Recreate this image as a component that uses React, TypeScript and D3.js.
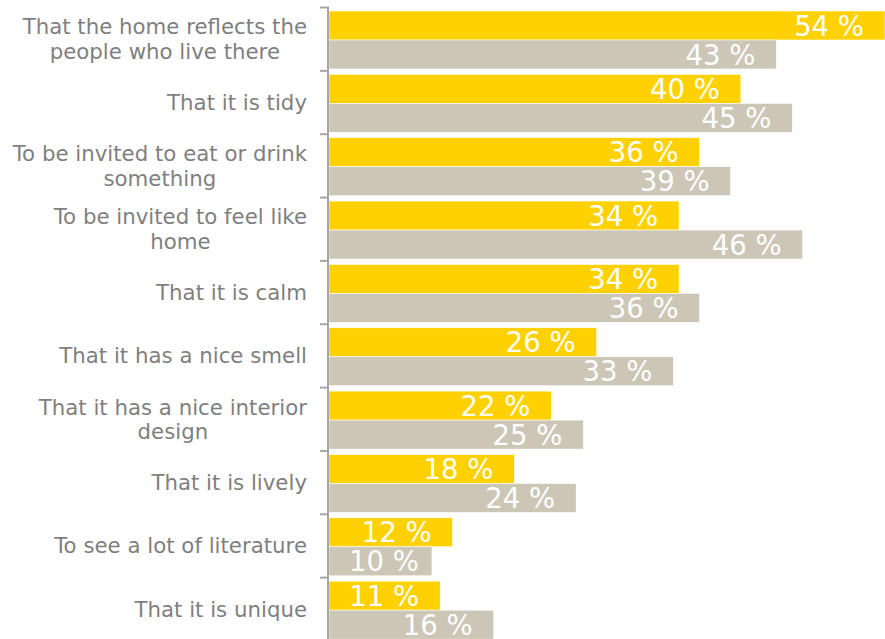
import { useEffect, useRef } from 'react'
import * as d3 from 'd3'

const categories = [
  'That the home reflects the|people who live there',
  'That it is tidy',
  'To be invited to eat or drink|something',
  'To be invited to feel like|home',
  'That it is calm',
  'That it has a nice smell',
  'That it has a nice interior|design',
  'That it is lively',
  'To see a lot of literature',
  'That it is unique',
]
const seriesA = [54, 40, 36, 34, 34, 26, 21.6, 18, 12, 10.8]
const seriesB = [43.45, 45, 39, 46, 36, 33.45, 24.7, 24, 10, 16]
const seriesKeys = ['a', 'b']
const colors = ['#FFD100', '#CCC6B6']

const W = 885
const H = 639

export default function App() {
  const ref = useRef<SVGSVGElement>(null)

  useEffect(() => {
    const svg = d3.select(ref.current)
    svg.selectAll('*').remove()

    const x = d3.scaleLinear([0, 54], [329, 885])
    const yBand = d3.scaleBand(categories, [7.5, 641]).padding(0)
    const ySub = d3.scaleBand(seriesKeys, [3.5, 61.5]).padding(0)

    const rows = categories.map((c, i) => ({ c, vals: [seriesA[i], seriesB[i]] }))

    const g = svg
      .selectAll('g.row')
      .data(rows)
      .join('g')
      .attr('class', 'row')
      .attr('transform', (d) => `translate(0,${yBand(d.c)})`)

    g.selectAll('rect')
      .data((d) => d.vals.map((v, k) => ({ v, k })))
      .join('rect')
      .attr('x', x(0))
      .attr('y', (d) => ySub(seriesKeys[d.k])!)
      .attr('width', (d) => x(d.v) - x(0))
      .attr('height', ySub.bandwidth())
      .attr('fill', (d) => colors[d.k])
      .attr('stroke', '#fff')
      .attr('stroke-width', 0.6)

    // value labels, right aligned inside bar end
    g.selectAll('text.val')
      .data((d) => d.vals.map((v, k) => ({ v, k })))
      .join('text')
      .attr('class', 'val')
      .attr('font-family', 'Verdana, "DejaVu Sans", sans-serif')
      .attr('font-size', 27.5)
      .attr('fill', '#fff')
      .attr('text-anchor', 'end')
      .attr('y', (d) => ySub(seriesKeys[d.k])! + ySub.bandwidth() / 2 + 10)
      .text((d) => `${Math.round(d.v)} %`)
      .each(function (d) {
        const w = (this as SVGTextElement).getComputedTextLength()
        const xe = Math.max(x(d.v) - 21, x(0) + 20 + w)
        d3.select(this).attr('x', xe)
      })

    // category labels: block right aligned, lines centred within block
    const lab = svg
      .selectAll('text.cat')
      .data(rows)
      .join('text')
      .attr('class', 'cat')
      .attr('font-family', 'Verdana, "DejaVu Sans", sans-serif')
      .attr('font-size', 21.3)
      .attr('fill', '#7F7F7F')
      .attr('text-anchor', 'middle')

    lab.each(function (d) {
      const t = d3.select(this)
      const lines = d.c.split('|')
      const lh = 24.5
      const mid = yBand(d.c)! + yBand.bandwidth() / 2
      const y0 = mid - ((lines.length - 1) * lh) / 2 + 7.5
      const spans = lines.map((l, i) =>
        t.append('tspan').attr('y', y0 + i * lh).text(l)
      )
      const wmax = d3.max(spans, (s) => (s.node() as SVGTSpanElement).getComputedTextLength())!
      spans.forEach((s) => s.attr('x', 307 - wmax / 2))
    })

    // axis
    svg
      .append('line')
      .attr('x1', 328)
      .attr('x2', 328)
      .attr('y1', 7.5)
      .attr('y2', H)
      .attr('stroke', '#A6A6A6')
      .attr('stroke-width', 2)
    const ticks = [...categories.map((c) => yBand(c)!), 641]
    svg
      .selectAll('line.tick')
      .data(ticks)
      .join('line')
      .attr('class', 'tick')
      .attr('x1', 320)
      .attr('x2', 329)
      .attr('y1', (d) => d)
      .attr('y2', (d) => d)
      .attr('stroke', '#A6A6A6')
      .attr('stroke-width', 2)
  }, [])

  return (
    <svg
      ref={ref}
      width={W}
      height={H}
      style={{ position: 'absolute', left: 0, top: 0, background: '#fff' }}
    />
  )
}
